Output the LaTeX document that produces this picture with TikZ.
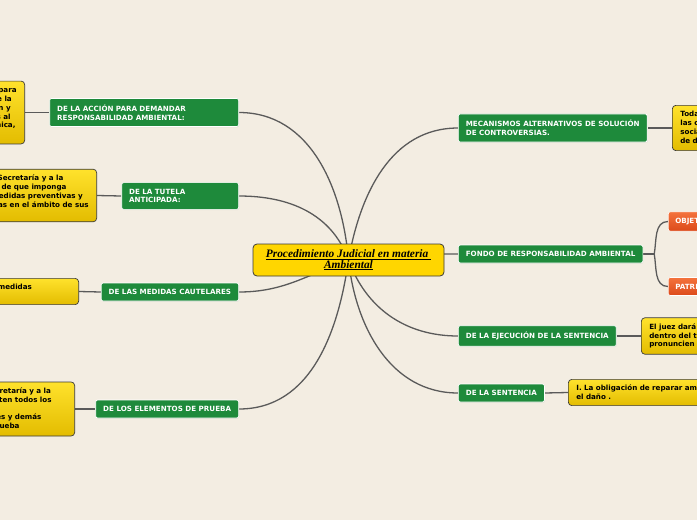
\documentclass[tikz,border=0pt]{standalone}
\usepackage{fontspec}
\usetikzlibrary{shadows}
\newfontfamily\mapafont{DejaVu Sans}
\newfontfamily\titulofont{Liberation Serif}
\definecolor{fondo}{HTML}{F3EDE2}
\definecolor{verde}{HTML}{1E8A3B}
\definecolor{amarillo}{HTML}{FFE22C}
\definecolor{amarilloosc}{HTML}{E3BC00}
\definecolor{oro}{HTML}{FFD600}
\definecolor{naranja}{HTML}{F4733D}
\definecolor{naranjaosc}{HTML}{DC4A1A}
\definecolor{linea}{HTML}{5A5A5A}
\definecolor{borde}{HTML}{3A3A3A}
\pgfdeclarelayer{capafondo}
\pgfdeclarelayer{lineas}
\pgfsetlayers{capafondo,lineas,main}
\tikzset{
  textomapa/.style={font=\mapafont\bfseries\fontsize{7.15}{8.8}\selectfont},
  rama/.style={textomapa,fill=verde,draw=white,line width=0.7pt,rounded corners=2pt,
    text=white,align=left,inner xsep=7.5pt,inner ysep=6.3pt,
    drop shadow={opacity=0.12,shadow xshift=0.6pt,shadow yshift=-0.8pt}},
  nota/.style={textomapa,top color=amarillo,bottom color=amarilloosc,draw=borde,
    line width=0.7pt,rounded corners=3.5pt,text=black,align=left,inner xsep=8pt,inner ysep=5.8pt},
  hoja/.style={textomapa,top color=naranja,bottom color=naranjaosc,draw=white,
    line width=0.6pt,rounded corners=2pt,text=white,inner xsep=7pt,inner ysep=6.3pt},
  central/.style={fill=oro,draw=borde,line width=0.8pt,rounded corners=4pt,
    minimum width=191pt,minimum height=32pt,align=center,
    font=\titulofont\bfseries\itshape\fontsize{11.4}{10.5}\selectfont},
  enlace/.style={draw=linea,line width=1.3pt},
}
\begin{document}
\begin{tikzpicture}[x=1pt,y=1pt]
  \useasboundingbox (0,0) rectangle (697,-520);
  \begin{pgfonlayer}{capafondo}
    \fill[fondo] (0,0) rectangle (697,-520);
  \end{pgfonlayer}
  \clip (0,0) rectangle (697,-520);
  % nodo central
  \node[central] (c) at (348.5,-260)
    {\underline{Procedimiento Judicial en materia\ }\\\underline{Ambiental}};
  % ramas a la izquierda
  \node[rama,anchor=east,text width=174pt] (r1) at (239,-112.5)
    {DE LA ACCIÓN PARA DEMANDAR\\RESPONSABILIDAD AMBIENTAL:};
  \node[rama,anchor=east,text width=102pt] (r2) at (239,-196)
    {DE LA TUTELA\\ANTICIPADA:};
  \node[rama,anchor=east] (r3) at (239,-292) {DE LAS MEDIDAS CAUTELARES};
  \node[rama,anchor=east] (r4) at (239,-409) {DE LOS ELEMENTOS DE PRUEBA};
  % ramas a la derecha
  \node[rama,anchor=west] (r5) at (458,-128)
    {MECANISMOS ALTERNATIVOS DE SOLUCIÓN\\DE CONTROVERSIAS.};
  \node[rama,anchor=west] (r6) at (458,-254) {FONDO DE RESPONSABILIDAD AMBIENTAL};
  \node[rama,anchor=west] (r7) at (458,-336) {DE LA EJECUCIÓN DE LA SENTENCIA};
  \node[rama,anchor=west] (r8) at (458,-393) {DE LA SENTENCIA};
  % notas
  \node[nota,anchor=east] (n1) at (25,-112.5)
    {Se reconoce derecho e interés legítimo para\\
     ejercer acción y demandar judicialmente la\\
     responsabilidad ambiental, la reparación y\\
     compensación de los daños ocasionados al\\
     ambiente, el pago de la Sanción Económica,\\
     así como las prestaciones};
  \node[nota,anchor=east] (n2) at (97,-195.5)
    {El juez dará vista a la Secretaría y a la\\
     Procuraduría, a efecto de que imponga\\
     inmediatamente las medidas preventivas y\\
     de seguridad adecuadas en el ámbito de sus\\
     atribuciones.};
  \node[nota,anchor=east,text width=178pt] (n3) at (79,-291.5)
    {El juez podrá decretar las medidas\\
     cautelares.};
  \node[nota,anchor=east,text width=188pt] (n4) at (75,-409)
    {El juez podrá requerir a la Secretaría y a la\\
     Procuraduría para que presenten todos los\\
     informes, documentos,\\
     dictámenes, estudios, peritajes y demás\\
     que posean como medio de prueba};
  \node[nota,anchor=west,text width=200pt] (n5) at (672,-128)
    {Toda persona tendrá derecho a resolver\\
     las controversias de carácter ambiental\\
     social o privado mediante mecanismos\\
     de diálogo, negociación y mediación.};
  \node[nota,anchor=west,text width=200pt] (n6) at (641,-336)
    {El juez dará vista a las partes para que\\
     dentro del término de tres días se\\
     pronuncien sobre el cumplimiento.};
  \node[nota,anchor=west,text width=220pt] (n7) at (568,-392.5)
    {I. La obligación de reparar ambientalmente\\
     el daño .};
  \node[hoja,anchor=west] (h1) at (668,-221.5) {OBJETO};
  \node[hoja,anchor=west] (h2) at (668,-286.5) {PATRIMONIO};
  % conectores
  \begin{pgfonlayer}{lineas}
    \foreach \n/\a in {r1/95,r2/110,r3/200,r4/262}
      \draw[enlace] (c.center) to[out=\a,in=0] (\n.east);
    \foreach \n/\a in {r5/80,r6/5,r7/290,r8/276}
      \draw[enlace] (c.center) to[out=\a,in=180] (\n.west);
    \foreach \a/\b in {n1/r1,n2/r2,n3/r3,n4/r4,r5/n5,r7/n6,r8/n7}
      \draw[enlace] (\a.east) -- (\b.west);
    \draw[enlace] (r6.east) -- ++(11,0) coordinate (bif);
    \draw[enlace] (bif) to[out=80,in=180] (h1.west);
    \draw[enlace] (bif) to[out=-80,in=180] (h2.west);
  \end{pgfonlayer}
\end{tikzpicture}
\end{document}
